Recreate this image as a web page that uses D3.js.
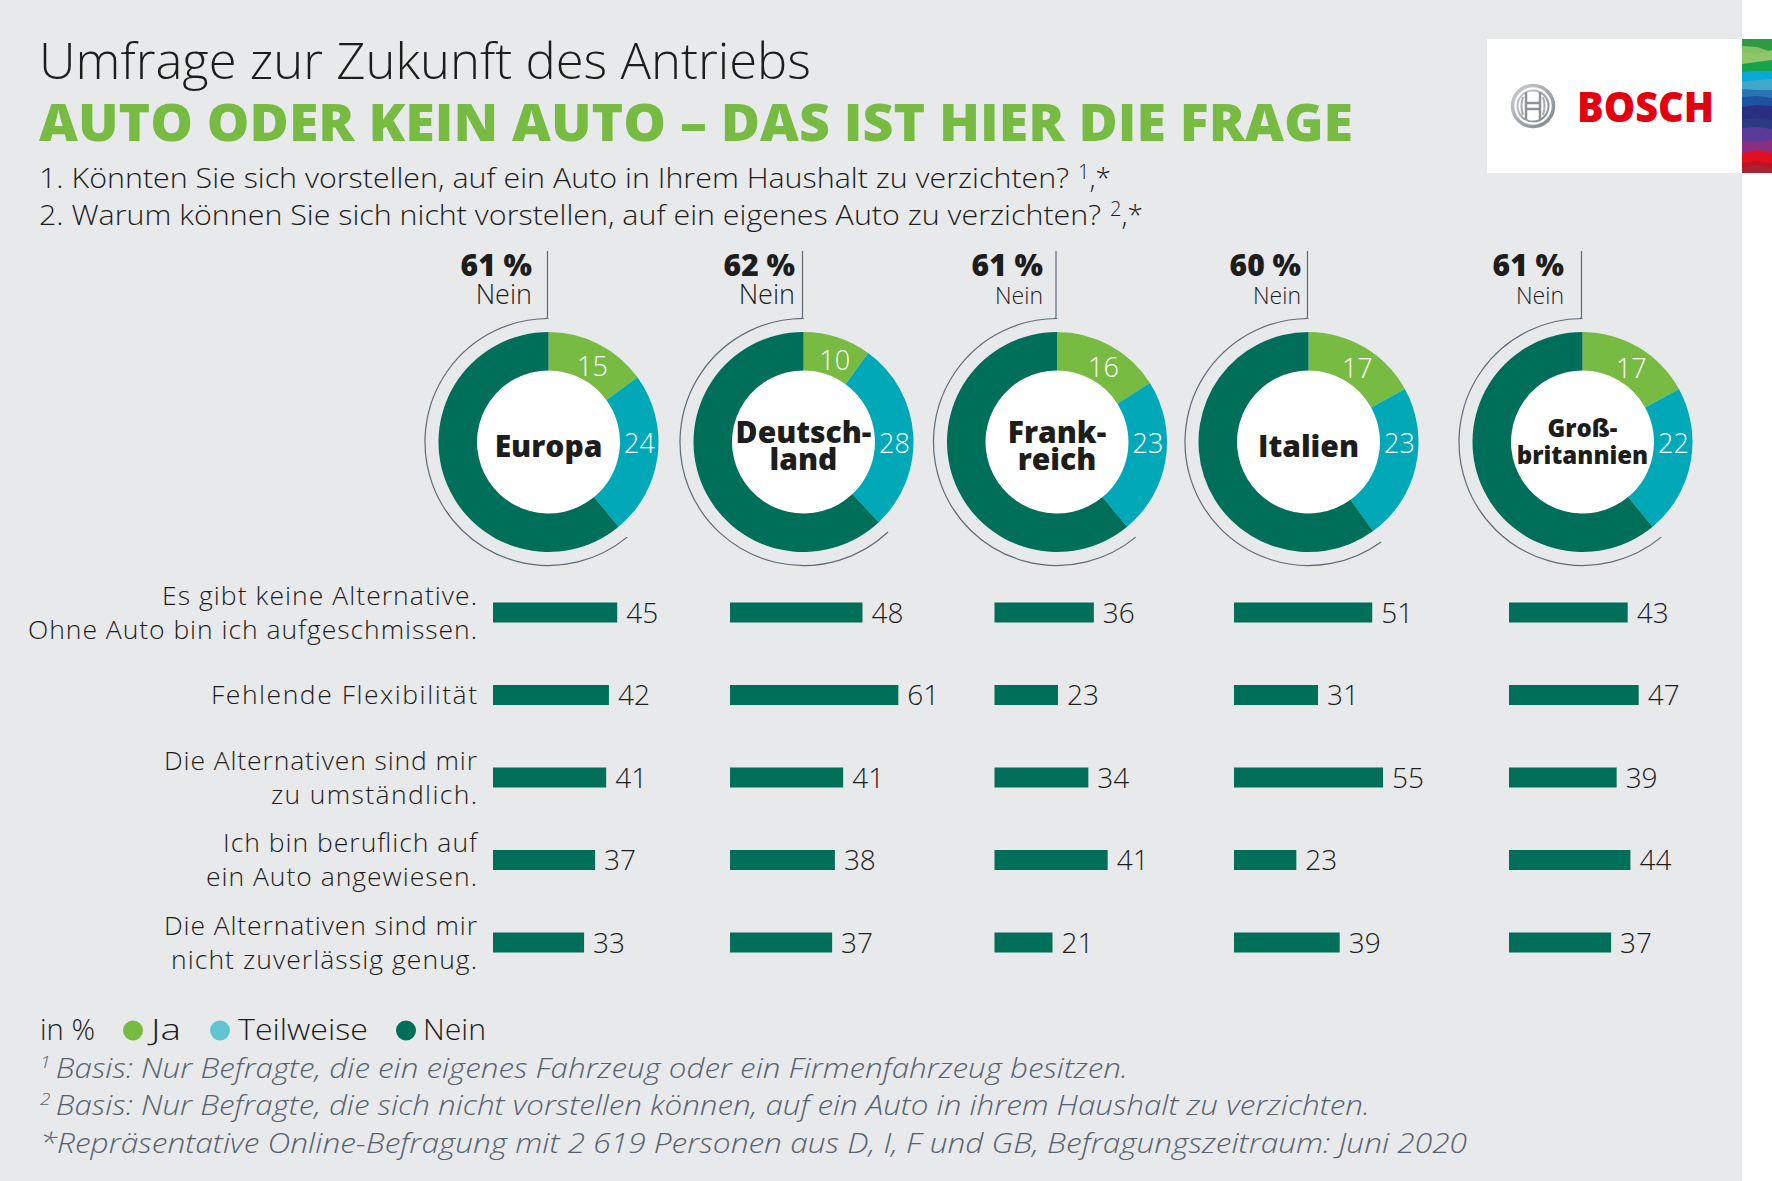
<!DOCTYPE html>
<html>
<head>
<meta charset="utf-8">
<script src="https://cdn.jsdelivr.net/npm/d3@7"></script>
<style>
  html, body { margin: 0; padding: 0; background: #fff; }
  svg { display: block; }
  text { font-family: "Open Sans", sans-serif; font-weight: 300; fill: #1d1d1b; }
</style>
</head>
<body>
<div id="chart"></div>
<script>
// Data
const regions = ["Europa", "Deutschland", "Frankreich", "Italien", "Großbritannien"];
const answers = ["Ja", "Teilweise", "Nein"];
const ja = [15, 10, 16, 17, 17];
const teilweise = [24, 28, 23, 23, 22];
const nein = [61, 62, 61, 60, 61];

const reasons = [
    "Es gibt keine Alternative.|Ohne Auto bin ich aufgeschmissen.",
    "Fehlende Flexibilität",
    "Die Alternativen sind mir|zu umständlich.",
    "Ich bin beruflich auf|ein Auto angewiesen.",
    "Die Alternativen sind mir|nicht zuverlässig genug."
];
const europaBars = [45, 42, 41, 37, 33];
const deutschlandBars = [48, 61, 41, 38, 37];
const frankreichBars = [36, 23, 34, 41, 21];
const italienBars = [51, 31, 55, 23, 39];
const britannienBars = [43, 47, 39, 44, 37];

const regionLines = [["Europa"], ["Deutsch-", "land"], ["Frank-", "reich"], ["Italien"], ["Groß-", "britannien"]];

// Layout
const width = 1772, height = 1181;
const donutX = [548.5, 803.5, 1057, 1308.5, 1582.5];
const barX = [493, 730, 994.5, 1234, 1509];
const barScale = [276, 276, 276, 271, 276];
const calloutRight = [532, 795, 1043, 1301, 1564];
const neinSize = [27, 27, 23, 23, 23];
const nameSize = [30, 30, 30, 30, 24];
const nameTop = [15, 1, 1, 15, -5.5];
const donutY = 442;
const reasonWidths = [[315, 449], [266], [313, 206], [254, 271], [313, 306]];

const colorRing = d3.scaleOrdinal().domain(answers).range(["#78bb43", "#00a8b8", "#006f59"]);
const colorLegend = d3.scaleOrdinal().domain(answers).range(["#78bb43", "#62c3d2", "#006f59"]);

const svg = d3.select("#chart").append("svg")
    .attr("width", width)
    .attr("height", height);

svg.append("rect").attr("width", 1742).attr("height", height).attr("fill", "#e8e9eb");

// Small helper, w squeezes the text to the width seen in the reference
function label(parent, str, x, y, size, o) {
    o = o || {};
    const t = parent.append("text")
        .attr("x", x).attr("y", y)
        .style("font-size", size + "px")
        .style("text-anchor", o.anchor || "start");
    if (o.weight) t.style("font-weight", o.weight);
    if (o.fill) t.style("fill", o.fill);
    if (o.italic) t.style("font-style", "italic");
    if (o.w) t.attr("textLength", o.w).attr("lengthAdjust", o.adjust || "spacingAndGlyphs");
    if (str !== null) t.text(str);
    return t;
}

// Header
label(svg, "Umfrage zur Zukunft des Antriebs", 39, 79, 50, {w: 772});
label(svg, "AUTO ODER KEIN AUTO – DAS IST HIER DIE FRAGE", 39, 141, 52, {weight: 800, fill: "#78bb43", w: 1314});

function question(y, txt, sup, w) {
    label(svg, txt, 39, y, 28, {w: w});
    const t = label(svg, null, 39 + w + 9, y, 28);
    t.append("tspan").attr("dy", -9).style("font-size", "20px").text(sup);
    t.append("tspan").attr("dy", 9).text(",*");
}
question(188, "1. Könnten Sie sich vorstellen, auf ein Auto in Ihrem Haushalt zu verzichten?", "1", 1030);
question(225, "2. Warum können Sie sich nicht vorstellen, auf ein eigenes Auto zu verzichten?", "2", 1062);

// Logo box and colour strip
const defs = svg.append("defs");
const silver = defs.append("linearGradient").attr("id", "silver")
    .attr("x1", 0).attr("y1", 0).attr("x2", 1).attr("y2", 1);
silver.append("stop").attr("offset", "0%").attr("stop-color", "#c9ced2");
silver.append("stop").attr("offset", "100%").attr("stop-color", "#7d858b");

svg.append("rect").attr("x", 1487).attr("y", 39).attr("width", 255).attr("height", 134).attr("fill", "#fff");

// each band paints from its top edge (left, middle, right) down to the strip's bottom
[[39, 39, 39, "#2f9a45"], [46, 47, 52, "#84c064"], [52, 54, 50, "#8ec669"], [64, 62, 60, "#16a350"],
 [72, 71, 71, "#0aa8d6"], [82, 80, 79, "#41a8cb"], [89, 90, 90, "#2a74b2"], [97, 96, 98, "#1f52a0"],
 [107, 105, 106, "#2b2f7f"], [119, 119, 120, "#2c3a84"], [128, 127, 129, "#5a3a98"], [140, 142, 140, "#8a2f80"],
 [153, 150, 153, "#e2101f"], [163, 161, 163, "#bb1420"], [168, 165, 168, "#a82435"]]
    .forEach(function (b) {
        svg.append("polygon")
            .attr("points", `1742,${b[0]} 1757,${b[1]} 1772,${b[2]} 1772,173 1742,173`)
            .attr("fill", b[3]);
    });

const logo = svg.append("g").attr("transform", "translate(1533,106)");
logo.append("circle").attr("r", 20.5).attr("fill", "none").attr("stroke", "url(#silver)").attr("stroke-width", 3.5);
logo.append("circle").attr("r", 15.5).attr("fill", "none").attr("stroke", "url(#silver)").attr("stroke-width", 2);
logo.append("path")
    .attr("d", "M-7,-14V14M7,-14V14M-7,-3H7M-7,3H7")
    .attr("fill", "none").attr("stroke", "#8d9499").attr("stroke-width", 2.5);
logo.append("path")
    .attr("d", "M-10,-9Q-13,0 -10,9M10,-9Q13,0 10,9")
    .attr("fill", "none").attr("stroke", "#a4aaae").attr("stroke-width", 2);
label(svg, "BOSCH", 1577, 122, 43, {weight: 800, fill: "#e3000f", w: 137});

// Donuts
const pie = d3.pie().sort(null).value(d => d.value);
const ringArc = d3.arc().innerRadius(71.5).outerRadius(110);
const calloutArc = d3.arc().innerRadius(123.5).outerRadius(123.5);
const greenLabel = d3.arc().innerRadius(88).outerRadius(88);

regions.forEach(function (region, i) {
    const slices = pie([
        {key: "Ja", value: ja[i]},
        {key: "Teilweise", value: teilweise[i]},
        {key: "Nein", value: nein[i]}
    ]);
    const g = svg.append("g").attr("class", "donut").attr("transform", `translate(${donutX[i]},${donutY})`);

    g.append("circle").attr("r", 71.5).attr("fill", "#fff");
    g.selectAll("path.slice").data(slices).enter().append("path")
        .attr("class", "slice")
        .attr("d", ringArc)
        .attr("fill", d => colorRing(d.data.key));

    // bracket around the Nein share
    g.append("path").attr("d", calloutArc(slices[2]))
        .attr("fill", "none").attr("stroke", "#5d6b78").attr("stroke-width", 1.2);
    g.append("path").attr("d", "M-1,-191V-125Q-1,-123.5 -3,-123.5")
        .attr("fill", "none").attr("stroke", "#5d6b78").attr("stroke-width", 1.2);

    // ring labels
    const c = greenLabel.centroid(slices[0]);
    label(g, ja[i], c[0] + 4, c[1] + 12, 27, {anchor: "middle", fill: "#fff"});
    label(g, teilweise[i], 91, 11, 27, {anchor: "middle", fill: "#fff"});

    // region name in the hole
    regionLines[i].forEach(function (line, j) {
        label(g, line, 0, nameTop[i] + j * 27, nameSize[i], {anchor: "middle", weight: 800});
    });

    // callout text
    const dx = calloutRight[i] - donutX[i];
    label(g, nein[i] + " %", dx, -166, 30, {anchor: "end", weight: 800});
    label(g, "Nein", dx, -138.5, neinSize[i], {anchor: "end"});
});

// Bars
const yBar = d3.scalePoint().domain(reasons).range([612.5, 942.5]);
const barHeight = 20;
const barSeries = [europaBars, deutschlandBars, frankreichBars, italienBars, britannienBars];

barSeries.forEach(function (values, i) {
    const xBar = d3.scaleLinear().domain([0, 100]).range([0, barScale[i]]);
    const g = svg.append("g").attr("class", "bars").attr("transform", `translate(${barX[i]},0)`);
    g.selectAll("rect").data(values).enter().append("rect")
        .attr("x", 0)
        .attr("y", (d, k) => yBar(reasons[k]) - barHeight / 2)
        .attr("width", d => xBar(d))
        .attr("height", barHeight)
        .attr("fill", "#006f59");
    g.selectAll("text").data(values).enter().append("text")
        .attr("x", d => xBar(d) + 9)
        .attr("y", (d, k) => yBar(reasons[k]) + 10)
        .style("font-size", "28px")
        .text(d => d);
});

// Row labels
reasons.forEach(function (r, k) {
    const parts = r.split("|");
    parts.forEach(function (p, j) {
        const y = yBar(r) + 9 + (parts.length === 2 ? (j === 0 ? -17 : 17) : 0);
        label(svg, p, 477, y, 26.5, {anchor: "end", w: reasonWidths[k][j], adjust: "spacing"});
    });
});

// Legend
const legendDot = [133, 220, 406];
const legendText = [151, 238, 423];
const legendWidth = [30, 130, 63];
label(svg, "in %", 40, 1040, 30, {w: 55});
answers.forEach(function (a, i) {
    svg.append("circle").attr("cx", legendDot[i]).attr("cy", 1030.5).attr("r", 10).attr("fill", colorLegend(a));
    label(svg, a, legendText[i], 1040, 30, {w: legendWidth[i]});
});

// Footnotes
function footnote(y, sup, txt, w) {
    const t = label(svg, null, 40, y, 28, {italic: true, fill: "#55626f", w: w});
    t.append("tspan").attr("dy", -10).style("font-size", "17px").text(sup);
    t.append("tspan").attr("dy", 10).text("\u2009" + txt);
}
footnote(1078, "1", "Basis: Nur Befragte, die ein eigenes Fahrzeug oder ein Firmenfahrzeug besitzen.", 1088);
footnote(1115, "2", "Basis: Nur Befragte, die sich nicht vorstellen können, auf ein Auto in ihrem Haushalt zu verzichten.", 1330);
label(svg, "*Repräsentative Online-Befragung mit 2 619 Personen aus D, I, F und GB, Befragungszeitraum: Juni 2020", 40, 1153, 28, {italic: true, fill: "#55626f", w: 1427});
</script>
</body>
</html>
